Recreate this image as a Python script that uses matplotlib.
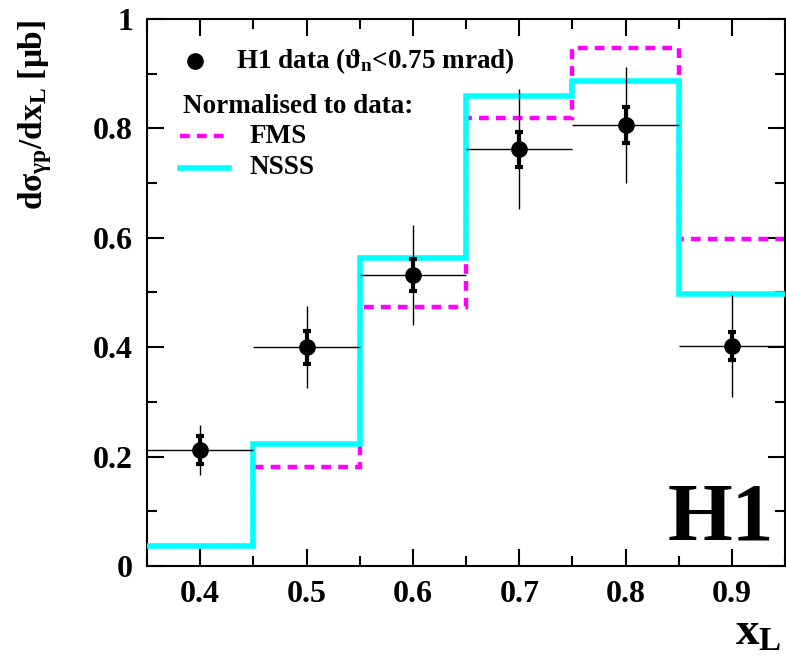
import matplotlib
matplotlib.use("Agg")
import matplotlib.pyplot as plt
from matplotlib.lines import Line2D
import numpy as np

plt.rcParams['font.family'] = ['Liberation Serif', 'DejaVu Serif']
plt.rcParams['font.weight'] = 'bold'
plt.rcParams['mathtext.fontset'] = 'custom'
plt.rcParams['mathtext.rm'] = 'Liberation Serif:bold'
plt.rcParams['mathtext.it'] = 'Liberation Serif:bold'
plt.rcParams['mathtext.bf'] = 'Liberation Serif:bold'

# Data
bin_edges = [0.35, 0.45, 0.55, 0.65, 0.75, 0.85, 0.95]
x_data = [0.4, 0.5, 0.6, 0.7, 0.8, 0.9]
y_data = [0.212, 0.400, 0.532, 0.762, 0.806, 0.402]
stat_err = [0.026, 0.030, 0.030, 0.032, 0.033, 0.026]
tot_err = [0.046, 0.075, 0.092, 0.110, 0.106, 0.093]
x_halfwidth = [0.05, 0.05, 0.05, 0.05, 0.05, 0.05]
fms = [0.037, 0.181, 0.473, 0.819, 0.947, 0.598]
nsss = [0.037, 0.223, 0.563, 0.859, 0.887, 0.497]

fig = plt.figure(figsize=(7.86, 6.58), dpi=100)
ax = fig.add_axes([0.187, 0.140, 0.812, 0.831])

ax.stairs(fms, bin_edges, baseline=None, color='#ff00ff', lw=3.2,
          ls=(0, (2.2, 1.6)), zorder=2)
ax.stairs(nsss, bin_edges, baseline=None, color='#00ffff', lw=4, zorder=3)

ax.errorbar(x_data, y_data, xerr=x_halfwidth, yerr=tot_err, fmt='none',
            ecolor='black', elinewidth=1.0, zorder=4)
ax.errorbar(x_data, y_data, yerr=stat_err, fmt='o', color='black', ms=11,
            elinewidth=3, capsize=3, capthick=3, zorder=5)

ax.set_xlim(0.35, 0.95)
ax.set_ylim(0, 1.0)
ax.set_xticks([0.4, 0.5, 0.6, 0.7, 0.8, 0.9])
ax.set_xticks(np.arange(0.35, 0.951, 0.05), minor=True)
ax.set_yticks([0, 0.2, 0.4, 0.6, 0.8, 1.0])
ax.set_yticklabels(['0', '0.2', '0.4', '0.6', '0.8', '1'])
ax.set_yticks(np.arange(0, 1.01, 0.1), minor=True)
ax.tick_params(which='both', direction='in', top=True, right=True, width=1.5)
ax.tick_params(which='major', length=12, labelsize=23, pad=10)
ax.tick_params(which='minor', length=7)
for lab in ax.get_xticklabels() + ax.get_yticklabels():
    lab.set_fontweight('bold')
for s in ax.spines.values():
    s.set_linewidth(1.5)

fig.text(0.995, 0.005, r'x$_{\mathrm{L}}$', fontsize=34, fontweight='bold',
         ha='right', va='bottom')
fig.text(0.045, 0.97, r'd$\sigma_{\gamma p}$/dx$_{\mathrm{L}}$ [$\mu$b]',
         fontsize=24, fontweight='bold', rotation=90, ha='center', va='top')

# Legend
T = ax.transAxes
ax.add_line(Line2D([0.075], [0.923], transform=T, marker='o', color='black', ms=11, ls='none'))
ax.text(0.139, 0.923, r'H1 data ($\vartheta_n$<0.75 mrad)', transform=T,
        fontsize=19.5, fontweight='bold', va='center')
ax.text(0.056, 0.840, 'Normalised to data:', transform=T, fontsize=19.5,
        fontweight='bold', va='center')
ax.add_line(Line2D([0.052, 0.128], [0.786, 0.786], transform=T, color='#ff00ff',
                   lw=3.2, ls=(0, (2.2, 1.6))))
ax.text(0.160, 0.786, 'FMS', transform=T, fontsize=19.5, fontweight='bold', va='center')
ax.add_line(Line2D([0.052, 0.128], [0.728, 0.728], transform=T, color='#00ffff', lw=4))
ax.text(0.160, 0.728, 'NSSS', transform=T, fontsize=19.5, fontweight='bold', va='center')

ax.text(0.983, 0.048, 'H1', transform=T, fontsize=60, fontweight='bold',
        ha='right', va='baseline')

fig.savefig('out.png', dpi=100)
